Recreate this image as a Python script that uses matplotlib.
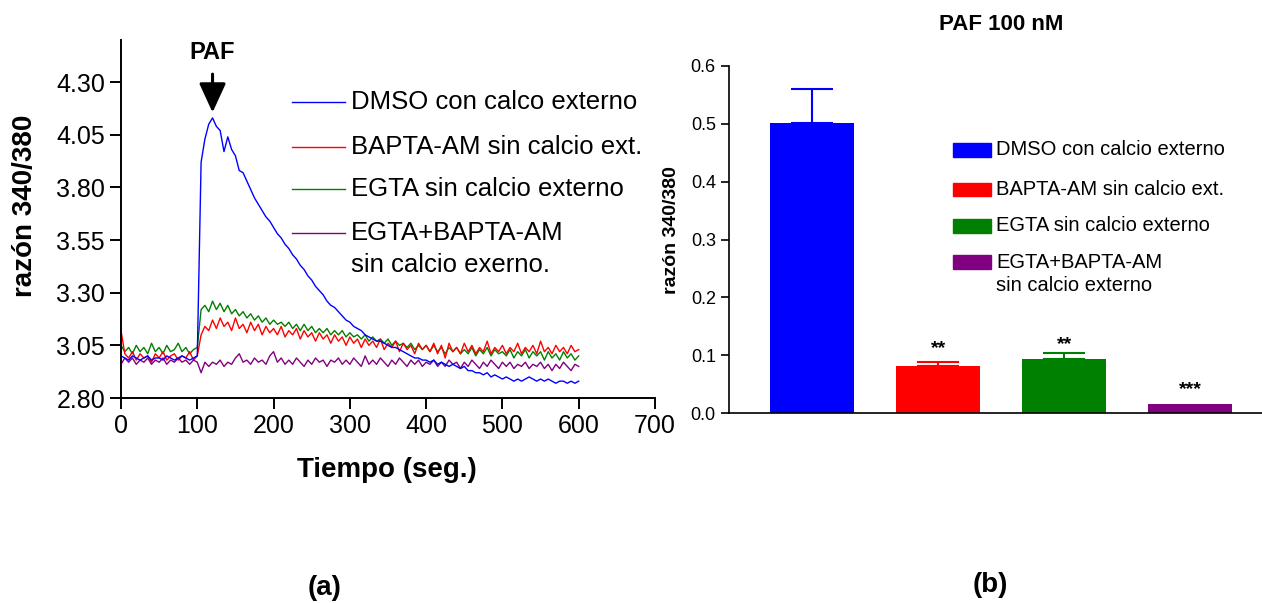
import numpy as np
import matplotlib
matplotlib.use("Agg")
import matplotlib.pyplot as plt
from matplotlib.patches import Rectangle

plt.rcParams["font.family"] = ["Liberation Sans", "DejaVu Sans"]

# ---- panel (a): ratio traces, one value every 5 s from 0 to 600 s ----
time_s = np.arange(0, 601, 5)

dmso = [
    3.00, 2.99, 2.98, 3.00, 2.99, 2.98, 2.99, 3.00, 2.98, 2.99,
    2.99, 2.98, 3.00, 2.99, 2.98, 2.99, 3.00, 2.99, 2.98, 2.99,
    3.00, 3.92, 4.03, 4.10, 4.13, 4.09, 4.07, 3.97, 4.04, 3.98,
    3.95, 3.88, 3.87, 3.83, 3.79, 3.75, 3.72, 3.69, 3.66, 3.64,
    3.61, 3.58, 3.56, 3.53, 3.51, 3.48, 3.46, 3.43, 3.41, 3.38,
    3.36, 3.33, 3.31, 3.29, 3.26, 3.24, 3.23, 3.21, 3.19, 3.17,
    3.16, 3.14, 3.13, 3.12, 3.10, 3.09, 3.08, 3.07, 3.07, 3.06,
    3.05, 3.04, 3.04, 3.03, 3.02, 3.01, 3.00, 2.99, 2.99, 2.98,
    2.98, 2.97, 2.98, 2.96, 2.97, 2.96, 2.95, 2.96, 2.95, 2.94,
    2.95, 2.93, 2.93, 2.92, 2.92, 2.91, 2.92, 2.90, 2.91, 2.90,
    2.89, 2.90, 2.89, 2.88, 2.89, 2.88, 2.89, 2.90, 2.89, 2.88,
    2.89, 2.88, 2.89, 2.88, 2.87, 2.88, 2.88, 2.87, 2.88, 2.87,
    2.88,
]

bapta = [
    3.12, 3.01, 2.99, 3.02, 2.98, 3.01, 2.99, 3.00, 2.97, 3.01,
    2.99, 3.02, 2.98, 3.00, 3.01, 2.98, 3.00, 2.99, 3.02, 2.98,
    3.00, 3.10, 3.14, 3.12, 3.17, 3.13, 3.18, 3.14, 3.16, 3.12,
    3.18, 3.13, 3.15, 3.11, 3.16, 3.12, 3.15, 3.10, 3.14, 3.11,
    3.13, 3.10, 3.14, 3.09, 3.12, 3.10, 3.13, 3.08, 3.12, 3.09,
    3.11, 3.07, 3.11, 3.08, 3.10, 3.06, 3.10, 3.07, 3.09, 3.05,
    3.09, 3.06, 3.08, 3.04, 3.08, 3.05, 3.07, 3.04, 3.08, 3.03,
    3.06, 3.04, 3.07, 3.02, 3.06, 3.03, 3.05, 3.01, 3.06, 3.03,
    3.05, 3.02, 3.06, 3.01, 3.05, 2.99, 3.06, 3.02, 3.04, 3.01,
    3.06, 3.02, 3.05, 3.01, 3.04, 3.02, 3.07, 3.01, 3.04, 3.02,
    3.05, 3.01, 3.04, 3.02, 3.06, 3.01, 3.04, 3.02, 3.05, 3.01,
    3.07, 3.02, 3.04, 3.01, 3.05, 3.02, 3.04, 3.01, 3.05, 3.02,
    3.03,
]

egta = [
    3.05, 3.02, 3.04, 3.01, 3.05, 3.02, 3.04, 3.01, 3.06, 3.02,
    3.04, 3.01, 3.05, 3.02, 3.03, 3.06, 3.02, 3.04, 3.01, 3.03,
    3.04, 3.22, 3.24, 3.21, 3.26, 3.22, 3.25, 3.21, 3.24, 3.20,
    3.22, 3.19, 3.21, 3.18, 3.20, 3.17, 3.19, 3.16, 3.18, 3.15,
    3.17, 3.15, 3.16, 3.14, 3.16, 3.13, 3.15, 3.12, 3.15, 3.12,
    3.14, 3.11, 3.13, 3.11, 3.13, 3.10, 3.12, 3.10, 3.12, 3.09,
    3.11, 3.09, 3.10, 3.08, 3.10, 3.07, 3.09, 3.07, 3.08, 3.06,
    3.08, 3.05, 3.07, 3.05, 3.06, 3.04, 3.06, 3.03, 3.05, 3.03,
    3.05, 3.02, 3.05, 3.02, 3.04, 3.01, 3.04, 3.02, 3.04, 3.01,
    3.03, 3.01, 3.04, 3.00, 3.03, 3.01, 3.04, 3.00, 3.03, 3.01,
    3.02, 3.00, 3.03, 2.99, 3.02, 3.00, 3.03, 2.99, 3.02, 3.00,
    3.02, 2.98, 3.02, 2.99, 3.01, 2.98, 3.02, 2.99, 3.01, 2.98,
    3.00,
]

egta_bapta = [
    2.96, 2.99, 2.97, 2.99, 2.96, 2.98, 2.97, 2.99, 2.96, 2.98,
    2.97, 2.99, 2.96, 2.98, 2.97, 2.99, 2.97, 2.98, 2.96, 2.98,
    2.97, 2.92, 2.97, 2.95, 2.97, 2.96, 2.98, 2.95, 2.97, 2.96,
    2.99, 3.01, 2.97, 2.98, 2.96, 2.99, 2.97, 2.98, 2.96, 3.00,
    3.02, 2.97, 2.99, 2.96, 2.98, 2.96, 2.99, 2.97, 2.95, 2.98,
    2.96, 2.99, 2.97, 2.98, 2.95, 2.98, 2.97, 2.99, 2.96, 2.98,
    2.96, 2.99, 2.97, 2.95, 3.00, 2.96, 2.98, 2.96, 2.99, 2.97,
    2.95, 2.98, 2.96, 2.99, 2.97, 2.95, 2.98, 2.96, 2.98, 2.95,
    2.97, 2.96, 2.98, 2.95, 2.97, 2.95, 2.98, 2.96, 2.97, 2.94,
    2.97, 2.95, 2.98, 2.96, 2.94, 2.97, 2.95, 2.98, 2.96, 2.94,
    2.97, 2.95, 2.97, 2.94, 2.96, 2.95, 2.97, 2.94, 2.96, 2.95,
    2.97, 2.94, 2.96, 2.93, 2.96, 2.94, 2.97, 2.95, 2.93, 2.96,
    2.95,
]

trace_labels = [
    "DMSO con calco externo",
    "BAPTA-AM sin calcio ext.",
    "EGTA sin calcio externo",
    "EGTA+BAPTA-AM\nsin calcio exerno.",
]
trace_colors = ["#0000ff", "#ff0000", "#008000", "#800080"]
y_ticks_a = [2.80, 3.05, 3.30, 3.55, 3.80, 4.05, 4.30]
x_ticks_a = [0, 100, 200, 300, 400, 500, 600, 700]

# ---- panel (b): peak increase ----
bar_labels = [
    "DMSO con calcio externo",
    "BAPTA-AM sin calcio ext.",
    "EGTA sin calcio externo",
    "EGTA+BAPTA-AM\nsin calcio externo",
]
bar_values = [0.502, 0.082, 0.093, 0.015]
bar_errors = [0.058, 0.006, 0.010, 0.0]
bar_stars = ["", "**", "**", "***"]
bar_colors = ["#0000ff", "#ff0000", "#008000", "#800080"]

W, H = 1262, 603
fig = plt.figure(figsize=(W / 100, H / 100), dpi=100)

# panel (a)
ax1 = fig.add_axes([121 / W, 1 - 398 / H, 534 / W, 358 / H])
series = [dmso, bapta, egta, egta_bapta]
for idx in [2, 1, 3, 0]:
    ax1.plot(time_s, series[idx], color=trace_colors[idx], lw=1.0)
ax1.set_xlim(0, 700)
ax1.set_ylim(2.80, 4.50)
ax1.set_yticks(y_ticks_a)
ax1.set_yticklabels([f"{v:.2f}" for v in y_ticks_a])
ax1.set_xticks(x_ticks_a)
ax1.tick_params(labelsize=18, width=1.4, length=8, direction="out")
for s in ["top", "right"]:
    ax1.spines[s].set_visible(False)
for s in ["left", "bottom"]:
    ax1.spines[s].set_linewidth(1.4)

ax1.text(120, 4.44, "PAF", fontsize=17, fontweight="bold", ha="center", va="center")
ax1.annotate("", xy=(120, 4.156), xytext=(120, 4.338),
             arrowprops=dict(arrowstyle="-|>,head_length=1.2,head_width=0.55",
                             color="black", lw=2.2, mutation_scale=15,
                             shrinkA=0, shrinkB=0))

# manual legend (a)
row_y = [0.827, 0.701, 0.584, 0.461]
for lab, col, ry in zip(trace_labels, trace_colors, row_y):
    ax1.plot([0.320, 0.419], [ry, ry], transform=ax1.transAxes, color=col, lw=1.0)
    for k, line in enumerate(lab.split("\n")):
        ax1.text(0.431, ry - k * 0.089, line, transform=ax1.transAxes,
                 fontsize=18.5, ha="left", va="center")

fig.text(25 / W, 1 - 206 / H, "razón 340/380", rotation=90, fontsize=20,
         fontweight="bold", ha="center", va="center")
fig.text(387 / W, 1 - 470 / H, "Tiempo (seg.)", fontsize=20,
         fontweight="bold", ha="center", va="center")
fig.text(325 / W, 1 - 588 / H, "(a)", fontsize=20, fontweight="bold",
         ha="center", va="center")

# panel (b)
ax2 = fig.add_axes([729 / W, 1 - 413 / H, 533 / W, 347 / H])
pos = np.arange(len(bar_values))
ax2.bar(pos, bar_values, width=0.67, color=bar_colors)
for p, v, e, c in zip(pos, bar_values, bar_errors, bar_colors):
    if e > 0:
        ax2.errorbar(p, v, yerr=[[0], [e]], color=c, capsize=15, elinewidth=1.5,
                     capthick=1.5, fmt="none")
star_y = [0.0, 0.112, 0.119, 0.041]
for p, st, sy in zip(pos, bar_stars, star_y):
    if st:
        ax2.text(p, sy, st, fontsize=14, fontweight="bold", ha="center", va="center")
ax2.set_xlim(-0.66, 3.57)
ax2.set_ylim(0, 0.6)
ax2.set_yticks([0.0, 0.1, 0.2, 0.3, 0.4, 0.5, 0.6])
ax2.set_yticklabels([f"{v:.1f}" for v in [0.0, 0.1, 0.2, 0.3, 0.4, 0.5, 0.6]])
ax2.set_xticks([])
ax2.tick_params(axis="y", labelsize=13, width=1.2, length=6)
for s in ["top", "right"]:
    ax2.spines[s].set_visible(False)
ax2.spines["left"].set_linewidth(1.2)
ax2.spines["bottom"].set_linewidth(1.2)

# manual legend (b)
leg_rows = [0.758, 0.643, 0.539, 0.435]
for lab, col, ry in zip(bar_labels, bar_colors, leg_rows):
    ax2.add_patch(Rectangle((0.420, ry - 0.019), 0.072, 0.038, transform=ax2.transAxes,
                            color=col, clip_on=False))
    for k, line in enumerate(lab.split("\n")):
        ax2.text(0.501, ry - k * 0.069, line, transform=ax2.transAxes,
                 fontsize=14.5, ha="left", va="center")

fig.text(672 / W, 1 - 230 / H, "razón 340/380", rotation=90, fontsize=14,
         fontweight="bold", ha="center", va="center")
fig.text(1001 / W, 1 - 25 / H, "PAF 100 nM", fontsize=16,
         fontweight="bold", ha="center", va="center")
fig.text(990 / W, 1 - 585 / H, "(b)", fontsize=20, fontweight="bold",
         ha="center", va="center")

fig.savefig("out.png", dpi=100)
